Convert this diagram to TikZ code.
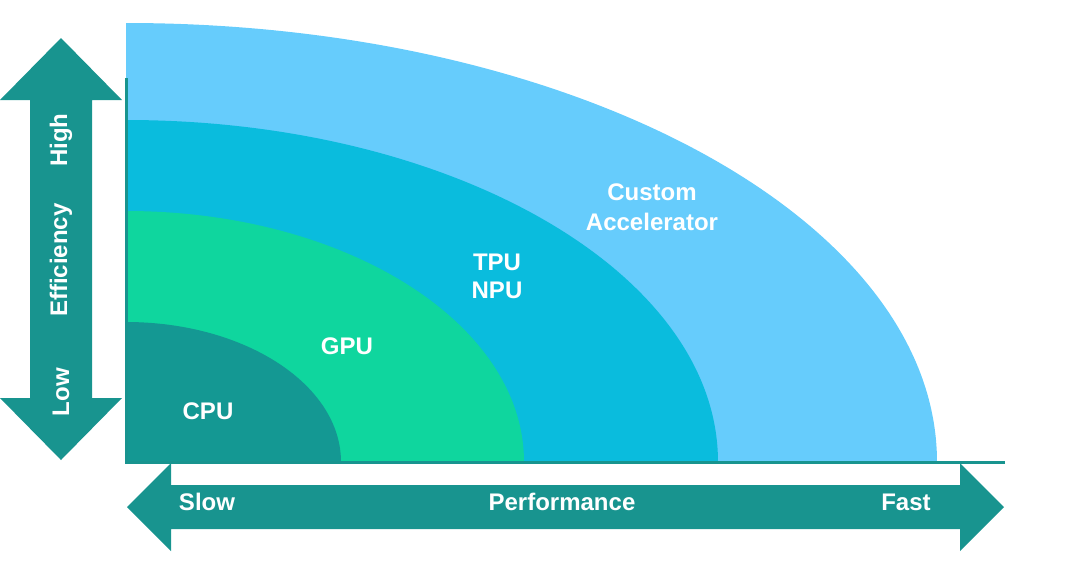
\documentclass[tikz,border=0pt]{standalone}
\usepackage{fontspec}
\setmainfont{Liberation Sans}
\definecolor{arrowteal}{HTML}{18948F}
\definecolor{cputeal}{HTML}{149893}
\definecolor{gpugreen}{HTML}{0FD69E}
\definecolor{tpublue}{HTML}{0ABCDD}
\definecolor{custblue}{HTML}{66CCFC}
\tikzset{
  lbl/.style={text=white, font=\fontsize{24}{30}\selectfont\bfseries, inner sep=0pt, align=center},
  region/.style={draw=none}
}
\begin{document}
\begin{tikzpicture}[x=1pt,y=-1pt]
\useasboundingbox (0,0) rectangle (1080,566);
% regions (quarter ellipses from origin at (126,462))
\fill[custblue] (126,462) -- (937,462) arc[start angle=0,end angle=-90,x radius=811,y radius=439] -- cycle;
\fill[tpublue] (126,462) -- (718,462) arc[start angle=0,end angle=-90,x radius=592,y radius=342] -- cycle;
\fill[gpugreen] (126,462) -- (524,462) arc[start angle=0,end angle=-90,x radius=398,y radius=251] -- cycle;
\fill[cputeal] (126,462) -- (341,462) arc[start angle=0,end angle=-90,x radius=215,y radius=140] -- cycle;
% axes
\coordinate (o) at (126,462);
\coordinate (ytop) at (126,78);
\coordinate (xend) at (1005,462);
\draw[arrowteal, line width=3pt] (ytop) -- (o) -- (xend);
% vertical double arrow
\fill[arrowteal] (61,38) -- (122,100) -- (92,100) -- (92,398) -- (122,398) -- (61,460) -- (0,398) -- (30,398) -- (30,100) -- (0,100) -- cycle;
% horizontal double arrow
\fill[arrowteal] (127,507) -- (171,463) -- (171,485) -- (960,485) -- (960,463) -- (1004,507) -- (960,551) -- (960,529) -- (171,529) -- (171,551) -- cycle;
% labels
\node[lbl] (cust) at (652,207) {Custom\\[0pt]Accelerator};
\node[lbl] (tpu) at (497,276) {TPU\\[-2pt]NPU};
\node[lbl] (gpu) at (347,346) {GPU};
\node[lbl] (cpu) at (208,411) {CPU};
\node[lbl] (slow) at (207,502) {Slow};
\node[lbl] (perf) at (562,502) {Performance};
\node[lbl] (fast) at (906,502) {Fast};
\node[lbl, rotate=90] (high) at (61,140) {High};
\node[lbl, rotate=90] (eff) at (61,260) {Efficiency};
\node[lbl, rotate=90] (low) at (61,392) {Low};
\end{tikzpicture}
\end{document}
